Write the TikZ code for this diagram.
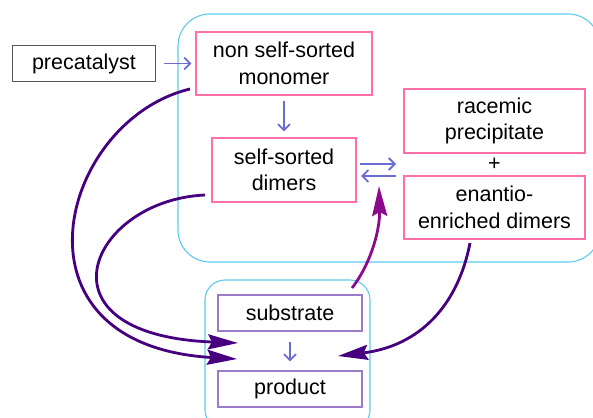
\documentclass[tikz,border=0pt]{standalone}
\usepackage{fontspec}
\setmainfont{Liberation Sans}
\usetikzlibrary{arrows.meta}

\definecolor{pinkline}{HTML}{FF6FA8}
\definecolor{cyanline}{HTML}{5CCBEA}
\definecolor{grayline}{HTML}{555555}
\definecolor{lilacline}{HTML}{9A7CC8}
\definecolor{flowblue}{HTML}{6B6BD6}
\definecolor{deepviolet}{HTML}{46007F}
\definecolor{plum}{HTML}{8B0A8B}

\begin{document}
\begin{tikzpicture}[x=1pt, y=-1pt,
	font=\fontsize{21.5}{26.5}\selectfont,
	box/.style={draw, line width=1.1pt, align=center, inner sep=0pt},
	pinkbox/.style={box, draw=pinkline},
	lilacbox/.style={box, draw=lilacline, minimum width=144pt, minimum height=36pt},
	frame/.style={draw=cyanline, line width=1.1pt},
	flow/.style={draw=flowblue, line width=1.8pt, -{Straight Barb[length=6pt,width=12pt]}},
	route/.style={line width=2.8pt, -{Stealth[length=30pt,width=15pt,inset=4pt]}}]

	\useasboundingbox (0,0) rectangle (593,417);

	% containers
	\draw[frame, rounded corners=32pt] (178,14) rectangle (600,262);
	\draw[frame, rounded corners=20pt] (205,280) rectangle (370,430);

	\node[box, draw=grayline, minimum width=143pt, minimum height=36pt] (pre) at (84,63.5) {precatalyst};
	\node[pinkbox, minimum width=176pt, minimum height=63pt] (mono) at (284,63.5) {non self-sorted\\monomer};
	\node[pinkbox, minimum width=144pt, minimum height=64pt] (dim) at (284,170) {self-sorted\\dimers};
	\node[pinkbox, minimum width=181pt, minimum height=64pt] (rac) at (494.5,121) {racemic\\precipitate};
	\node (plus) at (494.5,164) {+};
	\node[pinkbox, minimum width=181pt, minimum height=63pt] (enr) at (494.5,207.5) {enantio-\\enriched dimers};
	\node[lilacbox] (sub) at (290,313) {substrate};
	\node[lilacbox] (prod) at (290,389) {product};

	\draw[flow] ([xshift=8pt]pre.east) -- ([xshift=-4pt]mono.west);
	\draw[flow] ([yshift=-5pt]mono.south) -- ([yshift=6pt]dim.north);
	\draw[flow] ([yshift=-10pt]sub.south) -- ([yshift=9pt]prod.north);

	% equilibrium
	\coordinate (eqa) at (360,164);
	\coordinate (eqb) at (396,164);
	\coordinate (eqc) at (396,176);
	\coordinate (eqd) at (361,176);
	\draw[flow] (eqa) -- (eqb);
	\draw[flow] (eqc) -- (eqd);

	% catalytic routes
	\coordinate (m1) at (190,89);
	\coordinate (d1) at (205,195);
	\coordinate (s1) at (352,288);
	\coordinate (e1) at (470,243);
	\coordinate (in1) at (237,359);
	\coordinate (in2) at (238,343);
	\coordinate (in3) at (379,186);
	\coordinate (in4) at (338,356);

	\draw[route, deepviolet] (m1) .. controls (60,120) and (0,345) .. (in1);
	\draw[route, deepviolet] (d1) .. controls (90,200) and (30,335) .. (in2);
	\draw[route, plum] (s1) .. controls (372,262) and (380,228) .. (in3);
	\draw[route, deepviolet] (e1) .. controls (458,305) and (420,346) .. (in4);

\end{tikzpicture}
\end{document}
